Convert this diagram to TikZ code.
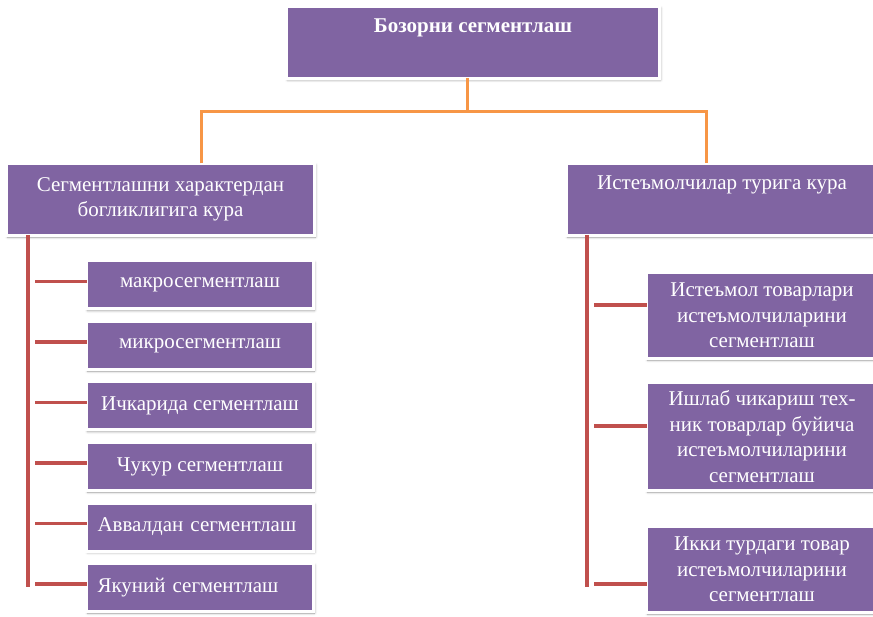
\documentclass[tikz,border=0pt]{standalone}
\usepackage{fontspec}
\setmainfont{Liberation Serif}
\usetikzlibrary{positioning,shadows.blur}
\definecolor{boxpurple}{HTML}{8064A2}
\definecolor{trunkorange}{HTML}{F79646}
\definecolor{branchred}{HTML}{C0504D}
\tikzset{
  box/.style={draw=white, line width=3pt, fill=boxpurple, text=white,
    font=\fontsize{21}{25.5}\selectfont, align=center, outer sep=0pt, inner sep=4pt,
    blur shadow={shadow xshift=1pt, shadow yshift=-1.5pt, shadow blur radius=2.5pt, shadow opacity=40}},
  toptext/.style={text height=15pt, text depth=34pt},
  flush/.style={text width=205pt, align=left},
  trunk/.style={draw=trunkorange, line width=3pt},
  branch/.style={draw=branchred, line width=3.5pt}}

\begin{document}
\begin{tikzpicture}[x=1pt, y=-1pt]
  \useasboundingbox (0,0) rectangle (873,617);
  % top and the two groups
  \node[box, toptext, minimum width=373pt, minimum height=72pt] (top) at (473,42.5) {\textbf{Бозорни сегментлаш}};
  \node[box, minimum width=308pt, minimum height=72pt] (lm) at (160.5,199.5) {Сегментлашни характердан\\богликлигига кура};
  \node[box, toptext, minimum width=311pt, minimum height=72pt] (rm) at (722,199.5) {Истеъмолчилар турига кура};

  % left column
  \node[box, minimum width=227pt, minimum height=48pt] (l1) at (200,285) {макросегментлаш};
  \node[box, minimum width=227pt, minimum height=48pt] (l2) [below=12.5pt of l1] {микросегментлаш};
  \node[box, minimum width=227pt, minimum height=48pt] (l3) [below=12.5pt of l2] {Ичкарида сегментлаш};
  \node[box, minimum width=227pt, minimum height=48pt] (l4) [below=12.5pt of l3] {Чукур сегментлаш};
  \node[box, flush, minimum width=227pt, minimum height=48pt] (l5) [below=12.5pt of l4] {Аввалдан сегментлаш};
  \node[box, flush, minimum width=227pt, minimum height=48pt] (l6) [below=12.5pt of l5] {Якуний сегментлаш};

  % right column
  \node[box, minimum width=231pt, minimum height=86pt] (r1) at (762,315.5) {Истеъмол товарлари\\истеъмолчиларини\\сегментлаш};
  \node[box, minimum width=231pt, minimum height=108pt] (r2) [below=24pt of r1] {Ишлаб чикариш тех-\\ник товарлар буйича\\истеъмолчиларини\\сегментлаш};
  \node[box, minimum width=231pt, minimum height=86pt] (r3) [below=36pt of r2] {Икки турдаги товар\\истеъмолчиларини\\сегментлаш};

  % orange tree
  \coordinate (hub) at (467,112);
  \draw[trunk] (top.south -| hub) -- (hub);
  \draw[trunk] ([xshift=40.5pt]lm.north) |- (hub) -| ([xshift=-16pt]rm.north);

  % red rails
  \coordinate (lrail) at (28,587);
  \coordinate (rrail) at (587,587);
  \draw[branch] (lm.south -| lrail) -- (lrail);
  \draw[branch] (rm.south -| rrail) -- (rrail);
  \foreach \n in {l1,l2,l3,l4,l5,l6}
    \draw[branch] ([yshift=3.5pt]\n.west) -- ++(-52pt,0);
  \draw[branch] ([yshift=10.5pt]r1.west) -- ++(-53pt,0);
  \draw[branch] ([yshift=10.5pt]r2.west) -- ++(-53pt,0);
  \draw[branch] ([yshift=-14.5pt]r3.west) -- ++(-53pt,0);
\end{tikzpicture}
\end{document}
